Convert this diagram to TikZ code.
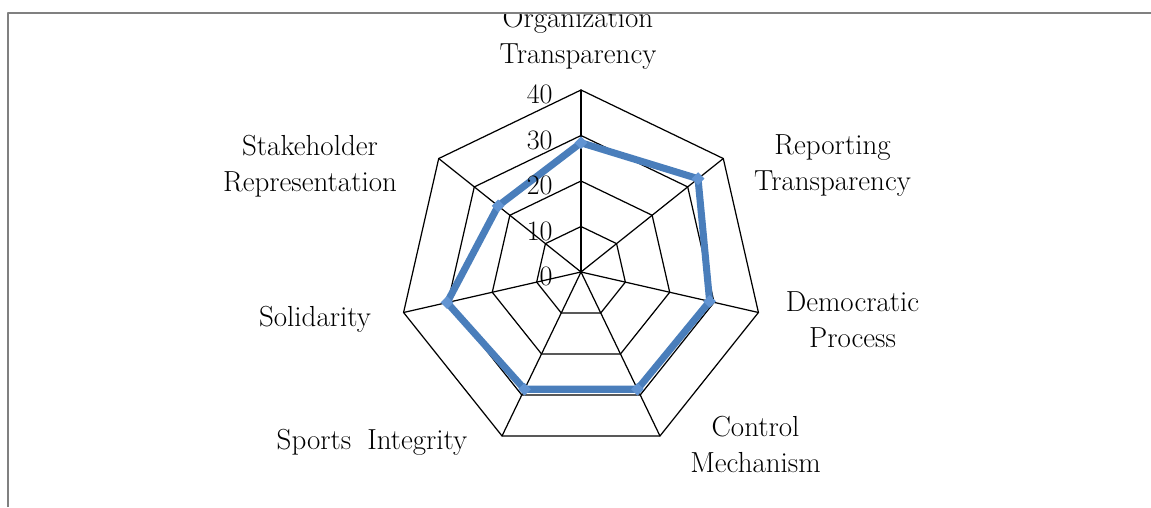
\documentclass[tikz,border=0pt]{standalone}
\usetikzlibrary{shapes.geometric}
\definecolor{seriesblue}{RGB}{74,126,187}
\definecolor{markblue}{RGB}{98,148,210}
\begin{document}
\begin{tikzpicture}[x=0.02cm, y=0.02cm, line join=round, line cap=round,
    axislabel/.style={align=center, inner sep=0pt, font=\fontsize{16.5}{20.5}\selectfont},
    ticklabel/.style={anchor=east, inner sep=0pt, font=\fontsize{16}{18}\selectfont},
    gridline/.style={black, line width=0.7pt},
    markbox/.style={diamond, fill=markblue, inner sep=0pt, minimum size=7.5pt}]
    \useasboundingbox (-581,-235) rectangle (570,272);
    \def\R{182}\def\xmin{-573}\def\xmax{570}\def\ytop{259}\def\ybot{-235}
    \begin{scope}
        \clip (\xmin,\ybot) rectangle (\xmax,\ytop);
        \foreach \i in {0,...,6}\draw[gridline] (0,0)--({90-\i*360/7}:\R);
        \foreach \l in {1,...,4}\draw[gridline] (90:{\l*\R/4}) \foreach \i in {1,...,6}{--({90-\i*360/7}:{\l*\R/4})} --cycle;
        \foreach \v [count=\i from 0] in {28.4,32.9,29,28.6,28.6,30.2,23.3}\coordinate (p\i) at ({90-\i*360/7}:{\v*\R/40});
        \draw[seriesblue, line width=4pt] (p0)--(p1)--(p2)--(p3)--(p4)--(p5)--(p6)--cycle;
        \foreach \i in {0,...,6}\node[markbox] (m\i) at (p\i) {};
        \foreach \t [count=\k from 0] in {0,10,20,30,40}\node[ticklabel] (t\t) at (-28,{\k*\R/4-4.5}) {\t};
        \node[axislabel] (org) at (-3,233.5) {Organization\\Transparency};
        \node[axislabel] (rep) at (251.5,106) {Reporting\\Transparency};
        \node[axislabel] (dem) at (271.5,-47.8) {Democratic\\Process};
        \node[axislabel] (ctl) at (174.5,-172) {Control\\Mechanism};
        \node[axislabel] (spo) at (-209,-170) {Sports\hskip0.55em Integrity};
        \node[axislabel] (sol) at (-266,-47) {Solidarity};
        \node[axislabel] (stk) at (-271,105.5) {Stakeholder\\Representation};
    \end{scope}
    \draw[black!50, line width=1.3pt, line cap=butt] (\xmin,\ybot)--(\xmin,\ytop)--(\xmax,\ytop);
\end{tikzpicture}
\end{document}
